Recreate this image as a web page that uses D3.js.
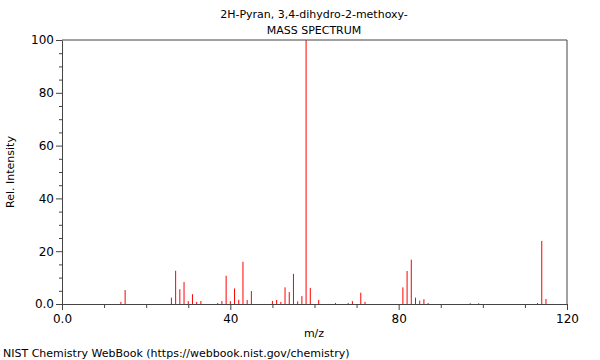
<!DOCTYPE html>
<html>
<head>
<meta charset="utf-8">
<script src="https://cdn.jsdelivr.net/npm/d3@7"></script>
<style>
  body { margin: 0; background: #fff; }
  svg { font-family: "DejaVu Sans", sans-serif; }
  text { fill: #000; }
</style>
</head>
<body>
<svg width="600" height="360"></svg>
<script>
const mz = [14, 15, 26, 27, 28, 29, 30, 31, 32, 33, 37, 38, 39, 40, 41, 42, 43, 44, 45,
            50, 51, 52, 53, 54, 55, 56, 57, 58, 59, 61, 65, 68, 69, 71, 72,
            81, 82, 83, 84, 85, 86, 87, 97, 99, 113, 114, 115];
const intensity = [0.8, 5.3, 2.4, 12.6, 5.6, 8.3, 1.1, 3.7, 0.8, 1.1, 0.4, 1.1, 10.7, 1.1, 5.9, 1.6, 16.0, 1.5, 4.9,
                   1.2, 1.5, 0.8, 6.3, 4.5, 11.4, 1.0, 3.0, 100, 6.1, 1.5, 0.4, 0.4, 1.1, 4.3, 0.8,
                   6.3, 12.5, 16.8, 2.4, 1.3, 1.8, 0.4, 0.3, 0.3, 0.4, 23.9, 1.9];
const xTicks = [0, 40, 80, 120];
const yTicks = [0, 20, 40, 60, 80, 100];

const svg = d3.select("svg");
const mLeft = 62, mRight = 567, mTop = 40, mBottom = 304;

const x = d3.scaleLinear().domain([0, 120]).range([mLeft, mRight]);
const y = d3.scaleLinear().domain([0, 100]).range([mBottom, mTop]);

// peaks
svg.append('g').selectAll('line').data(mz)
  .enter().append('line')
    .attr('x1', d => x(d))
    .attr('x2', d => x(d))
    .attr('y1', y(0))
    .attr('y2', (d, i) => y(intensity[i]))
    .attr('stroke', '#ff0000')
    .attr('stroke-width', 1);

// frame
svg.append('path')
  .attr('d', `M${mLeft},${mTop}H${mRight}V${mBottom}`)
  .attr('fill', 'none')
  .attr('stroke', '#444');

const xAxis = svg.append('g')
  .attr('transform', `translate(0,${mBottom})`)
  .call(d3.axisBottom(x).tickValues(d3.range(0, 121, 10)).tickSize(4).tickSizeOuter(0)
        .tickFormat(d => xTicks.includes(d) ? (d === 0 ? '0.0' : d) : ''));
xAxis.selectAll('.tick').filter(d => xTicks.includes(d)).select('line').attr('y2', 6);

const yAxis = svg.append('g')
  .attr('transform', `translate(${mLeft},0)`)
  .call(d3.axisLeft(y).tickValues(d3.range(0, 101, 5)).tickSize(3).tickSizeOuter(0)
        .tickFormat(d => yTicks.includes(d) ? (d === 0 ? '0.0' : d) : ''));
yAxis.selectAll('.tick').filter(d => yTicks.includes(d)).select('line').attr('x2', -6);

svg.selectAll('.domain').attr('stroke', '#444');
svg.selectAll('.tick line').attr('stroke', '#444');
svg.selectAll('.tick text').attr('font-size', 12).attr('font-family', '"DejaVu Sans", sans-serif').attr('fill', '#000');
xAxis.selectAll('.tick text').attr('dy', '0.71em').attr('y', 10);
yAxis.selectAll('.tick text').attr('x', -8);

svg.append('text').attr('x', 314).attr('y', 18).attr('text-anchor', 'middle').attr('font-size', 11)
  .text('2H-Pyran, 3,4-dihydro-2-methoxy-');
svg.append('text').attr('x', 314).attr('y', 34).attr('text-anchor', 'middle').attr('font-size', 11)
  .text('MASS SPECTRUM');
svg.append('text').attr('x', 314).attr('y', 337).attr('text-anchor', 'middle').attr('font-size', 11)
  .text('m/z');
svg.append('text').attr('transform', 'translate(14,172) rotate(-90)').attr('text-anchor', 'middle').attr('font-size', 11)
  .text('Rel. Intensity');
svg.append('text').attr('x', 3).attr('y', 357).attr('font-size', 11)
  .text('NIST Chemistry WebBook (https://webbook.nist.gov/chemistry)');
</script>
</body>
</html>
